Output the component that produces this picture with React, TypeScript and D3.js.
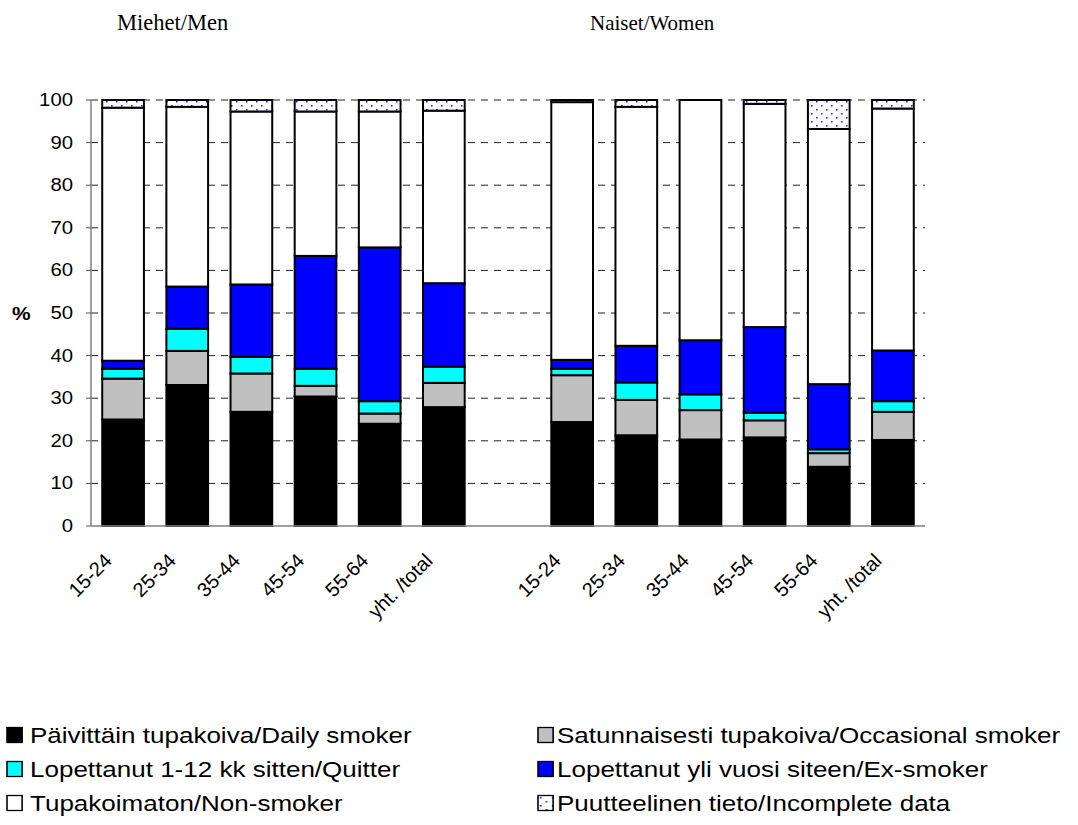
import React from "react";
import * as d3 from "d3";

const categories = ["15-24", "25-34", "35-44", "45-54", "55-64", "yht. /total"];
const groupTitles = ["Miehet/Men", "Naiset/Women"];

const seriesNames = [
  "Päivittäin tupakoiva/Daily smoker",
  "Satunnaisesti tupakoiva/Occasional smoker",
  "Lopettanut 1-12 kk sitten/Quitter",
  "Lopettanut yli vuosi siteen/Ex-smoker",
  "Tupakoimaton/Non-smoker",
  "Puutteelinen tieto/Incomplete data",
];
const seriesKeys = ["daily", "occasional", "quitter", "ex", "non", "incomplete"];
const seriesFills = ["#000000", "#c0c0c0", "#00ffff", "#0000ff", "#ffffff", "url(#dots)"];

const menDaily = [25.0, 33.1, 26.8, 30.4, 24.0, 27.9];
const menOccasional = [9.6, 8.0, 9.0, 2.5, 2.4, 5.7];
const menQuitter = [2.3, 5.2, 3.9, 4.0, 2.9, 3.8];
const menEx = [1.9, 9.9, 17.0, 26.5, 36.1, 19.6];
const menNon = [59.4, 42.2, 40.6, 33.9, 31.9, 40.5];
const menIncomplete = [1.8, 1.6, 2.7, 2.7, 2.7, 2.5];

const womenDaily = [24.4, 21.3, 20.3, 20.8, 13.9, 20.2];
const womenOccasional = [11.0, 8.3, 6.9, 4.0, 3.2, 6.6];
const womenQuitter = [1.5, 4.1, 3.7, 1.8, 0.9, 2.5];
const womenEx = [2.1, 8.6, 12.7, 20.1, 15.3, 11.9];
const womenNon = [60.5, 56.1, 56.4, 52.4, 59.9, 56.8];
const womenIncomplete = [0.5, 1.6, 0, 0.9, 6.8, 2.0];

const yTicks = [0, 10, 20, 30, 40, 50, 60, 70, 80, 90, 100];

type Row = { slot: string; label: string; [k: string]: any };

function buildRows(): Row[] {
  const rows: Row[] = [];
  const men = [menDaily, menOccasional, menQuitter, menEx, menNon, menIncomplete];
  const women = [womenDaily, womenOccasional, womenQuitter, womenEx, womenNon, womenIncomplete];
  categories.forEach((c, i) => {
    const r: Row = { slot: "m" + i, label: c };
    seriesKeys.forEach((k, j) => (r[k] = men[j][i]));
    rows.push(r);
  });
  const gap: Row = { slot: "gap", label: "" };
  seriesKeys.forEach((k) => (gap[k] = 0));
  rows.push(gap);
  categories.forEach((c, i) => {
    const r: Row = { slot: "w" + i, label: c };
    seriesKeys.forEach((k, j) => (r[k] = women[j][i]));
    rows.push(r);
  });
  return rows;
}

export default function App() {
  const W = 1078;
  const H = 825;
  const left = 91;
  const right = 925;
  const top = 100;
  const bottom = 526;

  const rows = buildRows();
  const x = d3
    .scaleBand<string>()
    .domain(rows.map((r) => r.slot))
    .range([left, right])
    .paddingInner(0.35)
    .paddingOuter(0.175);
  const y = d3.scaleLinear().domain([0, 100]).range([bottom, top]);
  const stacked = d3.stack<Row>().keys(seriesKeys)(rows);

  const sans = "'Liberation Sans', Arial, sans-serif";
  const serif = "'Liberation Serif', 'Times New Roman', serif";
  const sx = 1.21;

  return (
    <svg
      width={W}
      height={H}
      style={{ position: "absolute", left: 0, top: 0, background: "#fff" }}
    >
      <defs>
        <pattern id="dots" width={10} height={8} patternUnits="userSpaceOnUse">
          <rect width={10} height={8} fill="#fff" />
          <rect x={1} y={1} width={1.6} height={1.6} fill="#3030ff" />
          <rect x={6} y={5} width={1.6} height={1.6} fill="#3030ff" />
        </pattern>
      </defs>

      {/* titles */}
      <text x={117} y={30} fontFamily={serif} fontSize={22.5} fill="#000">
        {groupTitles[0]}
      </text>
      <text x={590} y={30} fontFamily={serif} fontSize={21} fill="#000">
        {groupTitles[1]}
      </text>

      {/* gridlines */}
      {yTicks
        .filter((t) => t > 0)
        .map((t) => (
          <line
            key={"g" + t}
            x1={left}
            x2={right}
            y1={y(t)}
            y2={y(t)}
            stroke="#222"
            strokeWidth={1}
            strokeDasharray="7,6"
          />
        ))}

      {/* bars */}
      {stacked.map((s, si) => (
        <g key={s.key}>
          {s.map((d, i) => {
            const r = rows[i];
            if (r.slot === "gap") return null;
            const h = y(d[0]) - y(d[1]);
            if (h <= 0) return null;
            return (
              <rect
                key={r.slot}
                x={x(r.slot)}
                y={y(d[1])}
                width={x.bandwidth()}
                height={h}
                fill={seriesFills[si]}
                stroke="#000"
                strokeWidth={2}
              />
            );
          })}
        </g>
      ))}

      {/* axes */}
      <line x1={left} x2={left} y1={top} y2={bottom} stroke="#808080" strokeWidth={1.5} />
      <line x1={left} x2={right} y1={bottom} y2={bottom} stroke="#808080" strokeWidth={1.5} />
      {yTicks.map((t) => (
        <g key={"t" + t}>
          <line x1={left - 5} x2={left} y1={y(t)} y2={y(t)} stroke="#555" strokeWidth={1} />
          <text
            transform={`translate(73,${y(t)}) scale(1.13,1)`}
            textAnchor="end"
            dominantBaseline="central"
            fontFamily={sans}
            fontSize={18}
            fill="#000"
          >
            {t}
          </text>
        </g>
      ))}
      <text
        transform={`translate(12,${y(50)}) scale(1.1,1)`}
        dominantBaseline="central"
        fontFamily={sans}
        fontSize={19}
        fontWeight="bold"
        fill="#000"
      >
        %
      </text>

      {/* x labels */}
      {rows
        .filter((r) => r.slot !== "gap")
        .map((r) => {
          const cx = (x(r.slot) as number) + x.bandwidth() / 2;
          return (
            <text
              key={"xl" + r.slot}
              transform={`translate(${cx - 10},${bottom + 36}) rotate(-45)`}
              textAnchor="end"
              fontFamily={sans}
              fontSize={20}
              fill="#000"
            >
              {r.label}
            </text>
          );
        })}

      {/* legend */}
      <g transform={`scale(${sx},1)`}>
        {seriesNames.map((name, i) => {
          const col = i % 2;
          const row = Math.floor(i / 2);
          const sqx = (col === 0 ? 7 : 538) / sx;
          const tx = (col === 0 ? 30 : 557) / sx;
          const cy = 735 + row * 34;
          return (
            <g key={"lg" + i}>
              <rect
                x={sqx}
                y={cy - 7.5}
                width={12.5}
                height={15}
                fill={seriesFills[i]}
                stroke="#000"
                strokeWidth={1.3}
              />
              <text
                x={tx}
                y={cy}
                dominantBaseline="central"
                fontFamily={sans}
                fontSize={21.5}
                fill="#000"
              >
                {name}
              </text>
            </g>
          );
        })}
      </g>
    </svg>
  );
}
